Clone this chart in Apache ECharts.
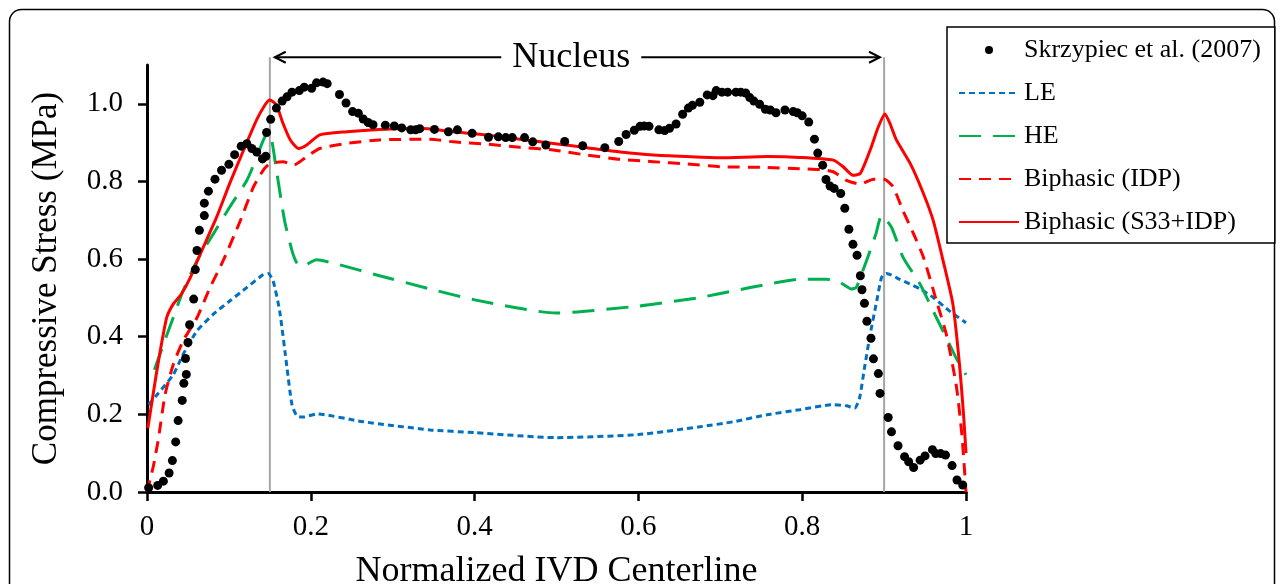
<!DOCTYPE html>
<html>
<head>
<meta charset="utf-8">
<script src="https://cdn.jsdelivr.net/npm/echarts@6/dist/echarts.min.js"></script>
<style>
html,body{margin:0;padding:0;background:#fff;}
#c{width:1281px;height:584px;}
</style>
</head>
<body>
<div id="c"></div>
<script>
// ---- data (x: normalized IVD centerline, y: compressive stress MPa) ----
const seriesNames = ['Skrzypiec et al. (2007)', 'LE', 'HE', 'Biphasic (IDP)', 'Biphasic (S33+IDP)'];
const xTicks = [0, 0.2, 0.4, 0.6, 0.8, 1];
const yTicks = [0, 0.2, 0.4, 0.6, 0.8, 1.0];
const nucleusBounds = [0.15, 0.9];
const nucleusArrow = [0.156, 0.895];
const nucleusLabel = 'Nucleus';

const skrzypiec = [
[0.002,0.011],[0.013,0.017],[0.020,0.028],[0.027,0.049],[0.031,0.081],[0.035,0.129],[0.038,0.184],[0.043,0.236],
[0.045,0.280],[0.048,0.303],[0.047,0.344],[0.050,0.385],[0.052,0.431],[0.057,0.497],[0.059,0.573],[0.061,0.622],
[0.064,0.674],[0.070,0.712],[0.070,0.744],[0.075,0.775],[0.083,0.806],[0.091,0.829],[0.100,0.844],[0.107,0.869],
[0.115,0.891],[0.122,0.897],[0.128,0.885],[0.134,0.876],[0.141,0.858],[0.145,0.865],[0.146,0.926],[0.151,0.960],
[0.158,0.989],[0.165,1.007],[0.171,1.018],[0.177,1.030],[0.186,1.034],[0.192,1.043],[0.201,1.040],[0.207,1.054],
[0.215,1.056],[0.220,1.052],[0.235,1.024],[0.243,1.002],[0.251,0.980],[0.258,0.976],[0.264,0.961],[0.270,0.952],
[0.276,0.946],[0.291,0.945],[0.302,0.943],[0.311,0.938],[0.322,0.933],[0.328,0.933],[0.333,0.936],[0.351,0.934],
[0.368,0.928],[0.379,0.933],[0.397,0.924],[0.417,0.914],[0.429,0.915],[0.438,0.913],[0.446,0.913],[0.461,0.913],
[0.471,0.902],[0.487,0.894],[0.510,0.903],[0.532,0.892],[0.559,0.887],[0.576,0.903],[0.585,0.921],[0.595,0.932],
[0.602,0.942],[0.607,0.943],[0.613,0.942],[0.625,0.933],[0.632,0.931],[0.638,0.937],[0.646,0.948],[0.654,0.973],
[0.661,0.989],[0.666,0.996],[0.675,1.004],[0.684,1.023],[0.691,1.021],[0.695,1.034],[0.702,1.030],[0.709,1.030],
[0.719,1.030],[0.725,1.030],[0.731,1.028],[0.736,1.016],[0.741,1.007],[0.748,0.999],[0.755,0.986],[0.761,0.984],
[0.768,0.977],[0.779,0.984],[0.789,0.980],[0.794,0.977],[0.800,0.969],[0.808,0.953],[0.815,0.909],[0.819,0.873],
[0.825,0.842],[0.829,0.805],[0.834,0.788],[0.839,0.782],[0.847,0.769],[0.852,0.731],[0.857,0.677],[0.862,0.638],
[0.867,0.610],[0.871,0.557],[0.873,0.521],[0.876,0.486],[0.879,0.440],[0.884,0.396],[0.887,0.343],[0.893,0.305],
[0.895,0.254],[0.905,0.192],[0.909,0.155],[0.917,0.119],[0.925,0.091],[0.930,0.078],[0.936,0.063],[0.944,0.082],
[0.950,0.093],[0.959,0.109],[0.963,0.099],[0.969,0.099],[0.975,0.095],[0.983,0.068],[0.989,0.031],[0.996,0.018]
];

const le = [
[0.002,0.225],[0.012,0.250],[0.032,0.302],[0.044,0.354],[0.061,0.415],[0.081,0.458],[0.101,0.492],[0.122,0.527],
[0.142,0.560],[0.148,0.563],[0.154,0.544],[0.162,0.466],[0.171,0.319],[0.177,0.225],[0.183,0.196],[0.191,0.193],
[0.207,0.201],[0.264,0.181],[0.346,0.160],[0.400,0.153],[0.500,0.140],[0.600,0.148],[0.675,0.168],[0.716,0.181],
[0.757,0.199],[0.797,0.212],[0.838,0.225],[0.854,0.222],[0.864,0.216],[0.870,0.242],[0.876,0.319],[0.883,0.406],
[0.891,0.492],[0.897,0.553],[0.903,0.563],[0.919,0.548],[0.944,0.523],[0.960,0.501],[0.980,0.466],[1.000,0.436]
];

const he = [
[0.009,0.315],[0.020,0.380],[0.032,0.449],[0.044,0.518],[0.061,0.596],[0.081,0.665],[0.101,0.734],[0.122,0.803],
[0.134,0.863],[0.144,0.915],[0.150,0.920],[0.158,0.829],[0.168,0.699],[0.177,0.622],[0.183,0.590],[0.189,0.581],
[0.207,0.598],[0.232,0.587],[0.284,0.557],[0.346,0.523],[0.400,0.495],[0.500,0.461],[0.600,0.479],[0.675,0.501],
[0.716,0.518],[0.757,0.535],[0.797,0.548],[0.830,0.548],[0.846,0.540],[0.860,0.523],[0.866,0.527],[0.874,0.570],
[0.883,0.622],[0.890,0.665],[0.897,0.712],[0.909,0.682],[0.923,0.605],[0.944,0.535],[0.960,0.466],[0.976,0.397],
[0.988,0.345],[1.000,0.302]
];

const biphasicIDP = [
[0.000,0.000],[0.008,0.069],[0.014,0.138],[0.022,0.250],[0.032,0.328],[0.044,0.389],[0.061,0.449],[0.077,0.527],
[0.093,0.596],[0.114,0.699],[0.130,0.786],[0.142,0.829],[0.150,0.846],[0.166,0.851],[0.179,0.842],[0.195,0.864],
[0.211,0.885],[0.244,0.898],[0.284,0.907],[0.346,0.909],[0.374,0.902],[0.415,0.896],[0.455,0.888],[0.496,0.881],
[0.537,0.868],[0.578,0.857],[0.618,0.851],[0.659,0.845],[0.700,0.838],[0.757,0.836],[0.797,0.833],[0.822,0.831],
[0.838,0.825],[0.854,0.803],[0.871,0.793],[0.887,0.806],[0.901,0.805],[0.911,0.786],[0.923,0.725],[0.936,0.665],
[0.948,0.605],[0.964,0.492],[0.976,0.406],[0.988,0.276],[0.995,0.147],[1.000,0.000]
];

const biphasicS33 = [
[0.001,0.164],[0.008,0.259],[0.014,0.337],[0.024,0.449],[0.032,0.484],[0.042,0.510],[0.053,0.553],[0.065,0.613],
[0.085,0.708],[0.101,0.795],[0.118,0.881],[0.134,0.959],[0.144,0.997],[0.150,1.010],[0.158,0.997],[0.166,0.950],
[0.175,0.907],[0.185,0.885],[0.195,0.894],[0.211,0.920],[0.244,0.928],[0.284,0.934],[0.333,0.937],[0.374,0.928],
[0.415,0.920],[0.455,0.909],[0.496,0.898],[0.537,0.887],[0.578,0.876],[0.618,0.868],[0.659,0.864],[0.700,0.861],
[0.757,0.864],[0.797,0.862],[0.838,0.855],[0.850,0.838],[0.862,0.816],[0.871,0.821],[0.883,0.881],[0.893,0.941],
[0.901,0.974],[0.907,0.950],[0.915,0.907],[0.932,0.846],[0.948,0.769],[0.960,0.699],[0.972,0.596],[0.984,0.484],
[0.992,0.330],[0.997,0.200],[1.000,0.100]
];

// ---- chart ----
const FONT = '"Liberation Serif", "Times New Roman", serif';
const chart = echarts.init(document.getElementById('c'), null, {renderer: 'canvas'});

function lineSeries(name, data, color, dash) {
  return {
    name: name, type: 'line', data: data, symbol: 'none', smooth: 0.2,
    lineStyle: {color: color, width: 3, type: dash || 'solid', cap: 'butt'},
    itemStyle: {color: color}, z: 3, animation: false
  };
}

const legendData = seriesNames.map((n, i) => i === 0 ? {name: n} : {name: n, itemStyle: {opacity: 0}});

const option = {
  backgroundColor: '#ffffff',
  animation: false,
  grid: {left: 147, right: 315, top: 65, bottom: 92, containLabel: false, outerBoundsMode: 'none'},
  xAxis: {
    type: 'value', min: 0, max: 1, interval: 0.2,
    name: 'Normalized IVD Centerline', nameLocation: 'middle', nameGap: 62,
    nameTextStyle: {fontFamily: FONT, fontSize: 36, color: '#000'},
    axisLine: {lineStyle: {color: '#000', width: 3}},
    axisTick: {length: 9, lineStyle: {color: '#000', width: 2.5}},
    axisLabel: {fontFamily: FONT, fontSize: 29, color: '#000', margin: 21},
    splitLine: {show: false}
  },
  yAxis: {
    type: 'value', min: 0, max: 1.1, interval: 0.2,
    name: 'Compressive Stress (MPa)', nameLocation: 'middle', nameGap: 83,
    nameTextStyle: {fontFamily: FONT, fontSize: 35, color: '#000'},
    axisLine: {show: true, lineStyle: {color: '#000', width: 3}},
    axisTick: {show: true, length: 9, lineStyle: {color: '#000', width: 2.5}, customValues: yTicks},
    axisLabel: {fontFamily: FONT, fontSize: 29, color: '#000', margin: 24, customValues: yTicks,
      formatter: v => v.toFixed(1)},
    splitLine: {show: false}
  },
  legend: {
    data: legendData,
    orient: 'vertical', left: 947, top: 27,
    backgroundColor: '#fff', borderColor: '#000', borderWidth: 1.5, borderRadius: 0,
    padding: [10, 14, 8, 11], itemGap: 17, itemWidth: 60, itemHeight: 8,
    textStyle: {fontFamily: FONT, fontSize: 26, color: '#000', lineHeight: 25},
    selectedMode: false
  },
  series: [
    lineSeries(seriesNames[1], le, '#0070C0', [6, 4]),
    lineSeries(seriesNames[2], he, '#00B050', [22, 12]),
    lineSeries(seriesNames[3], biphasicIDP, '#FF0000', [12, 8]),
    lineSeries(seriesNames[4], biphasicS33, '#FF0000', 'solid'),
    {
      name: seriesNames[0], type: 'scatter', data: skrzypiec, symbol: 'circle', symbolSize: 9,
      itemStyle: {color: '#000', opacity: 1}, z: 5, animation: false
    }
  ]
};
chart.setOption(option);

// annotations placed through the axes' own scales
const px = (x, y) => chart.convertToPixel({gridIndex: 0}, [x, y]);
const topY = 1.12;
const g = [];
nucleusBounds.forEach(b => {
  const a = px(b, 0), t = px(b, topY);
  g.push({type: 'line', shape: {x1: a[0], y1: a[1], x2: t[0], y2: t[1]},
    style: {stroke: '#A6A6A6', lineWidth: 2}, z: 1, silent: true});
});
const aL = px(nucleusArrow[0], topY), aR = px(nucleusArrow[1], topY);
const mid = px(0.518, topY);
const textHalf = 70;
g.push({type: 'line', shape: {x1: aL[0], y1: aL[1], x2: mid[0] - textHalf, y2: aL[1]}, style: {stroke: '#000', lineWidth: 2}, z: 10});
g.push({type: 'line', shape: {x1: mid[0] + textHalf, y1: aR[1], x2: aR[0], y2: aR[1]}, style: {stroke: '#000', lineWidth: 2}, z: 10});
g.push({type: 'polyline', shape: {points: [[aL[0] + 11, aL[1] - 5.5], [aL[0], aL[1]], [aL[0] + 11, aL[1] + 5.5]]}, style: {stroke: '#000', lineWidth: 2, fill: null}, z: 10});
g.push({type: 'polyline', shape: {points: [[aR[0] - 11, aR[1] - 5.5], [aR[0], aR[1]], [aR[0] - 11, aR[1] + 5.5]]}, style: {stroke: '#000', lineWidth: 2, fill: null}, z: 10});
g.push({type: 'text', x: mid[0], y: mid[1], style: {text: nucleusLabel, fontFamily: FONT, fontSize: 36, fill: '#000', align: 'center', verticalAlign: 'middle'}, z: 10});
// outer rounded frame
g.push({type: 'rect', shape: {x: 9.5, y: 9.5, width: 1265, height: 620, r: 12}, style: {stroke: '#000', lineWidth: 1.5, fill: null}, z: 0, silent: true});
chart.setOption({graphic: g});
</script>
</body>
</html>
